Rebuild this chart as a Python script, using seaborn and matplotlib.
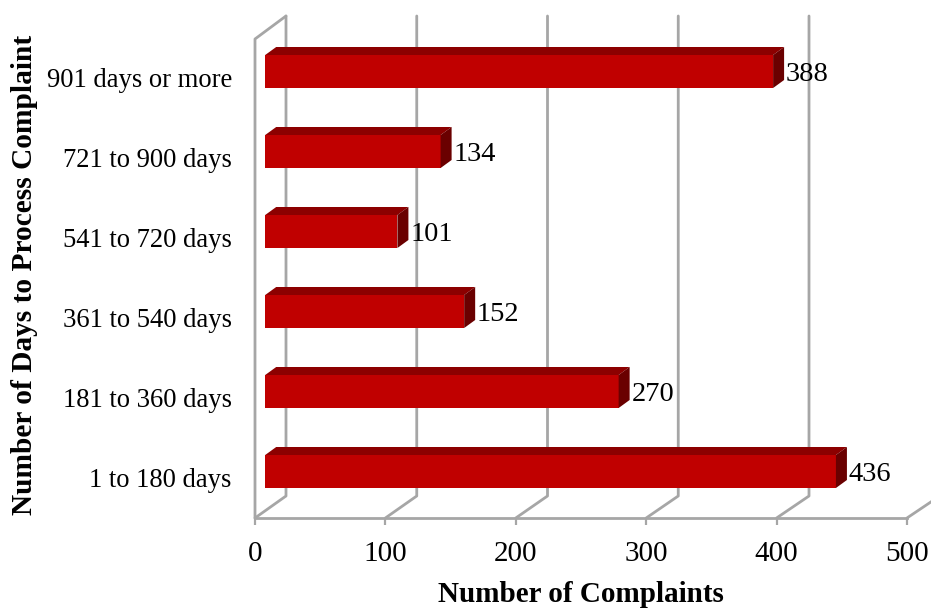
import matplotlib
matplotlib.use("Agg")
import matplotlib.pyplot as plt
import seaborn as sns
from matplotlib.patches import Polygon
from matplotlib.transforms import ScaledTranslation

# values
days = ["901 days or more", "721 to 900 days", "541 to 720 days",
        "361 to 540 days", "181 to 360 days", "1 to 180 days"]
complaints = [388, 134, 101, 152, 270, 436]
xticks = [0, 100, 200, 300, 400, 500]

GRID = "#A6A6A6"
FRONT = "#C00000"
TOP = "#8C0000"
SIDE = "#6A0000"
W, H = 931, 608

sns.set_theme(style="white")
plt.rcParams["font.family"] = ["Liberation Serif", "DejaVu Serif"]
plt.rcParams["text.color"] = "black"

fig = plt.figure(figsize=(W / 100, H / 100), dpi=100)


def px_axes(left, right, top, bottom):
    return fig.add_axes([left / W, 1 - bottom / H, (right - left) / W, (bottom - top) / H])


# floor and walls, in its own axes so the x scale starts at the front corner
wall = px_axes(255, 907, 39, 518)
wall.set_xlim(0, 500)
wall.set_ylim(0, 479)
sns.despine(ax=wall, left=True, top=True, right=True)
wall.spines["bottom"].set_color(GRID)
wall.spines["bottom"].set_linewidth(2)
wall.set_yticks([])
wall.set_xticks(xticks)
wall.tick_params(axis="x", bottom=True, color=GRID, width=1.6, length=5, labelsize=21, pad=11.5, labelcolor="black")
wall.set_xlabel("Number of Complaints", fontsize=21, fontweight="bold", color="black")
wall.xaxis.set_label_coords(0.5, -76.5 / 479, transform=wall.transAxes)
wall.xaxis.label.set_verticalalignment("center")

depth_x = 31 * 500 / 652
back_stretch = 1.3075 / 1.304
for t in xticks:
    bx = t * back_stretch + depth_x
    wall.plot([t, bx, bx], [0, 22, 502], color=GRID, lw=2, clip_on=False,
              solid_joinstyle="round", zorder=1)
wall.plot([0, 0, depth_x], [0, 479, 502], color=GRID, lw=2, clip_on=False, zorder=1)

# bars sit a little in front of the back wall
bar_scale = 1.309
bar_left = 265.2
ax = px_axes(bar_left, bar_left + 500 * bar_scale, 39, 518)
ax.patch.set_visible(False)
sns.barplot(x=complaints, y=days, color=FRONT, saturation=1, width=33 / 80, ax=ax, zorder=3,
            edgecolor="none", linewidth=0)
ax.set_xlim(0, 500)
ax.set_ylim((518 - 71.5) / 80, (39 - 71.5) / 80)
sns.despine(ax=ax, left=True, bottom=True, top=True, right=True)
ax.set_xticks([])
ax.set_xlabel("")

dx = 11 / bar_scale
dy = 8 / 80
for p, v in zip(ax.patches, complaints):
    x0, y0, w, h = p.get_x(), p.get_y(), p.get_width(), p.get_height()
    x1 = x0 + w
    y1 = y0 + h
    ax.add_patch(Polygon([(x0, y0), (x0 + dx, y0 - dy), (x1 + dx, y0 - dy), (x1, y0)],
                         facecolor=TOP, edgecolor="none", zorder=3, clip_on=False))
    ax.add_patch(Polygon([(x1, y0), (x1 + dx, y0 - dy), (x1 + dx, y1 - dy), (x1, y1)],
                         facecolor=SIDE, edgecolor="none", zorder=3, clip_on=False))
    ax.annotate(str(v), (x1 + dx, y0 + h / 2), xytext=(1.2, -2), textcoords="offset points",
                va="center", ha="left", fontsize=20.5, color="black", zorder=5)

ax.tick_params(axis="y", left=False, labelsize=19.2, pad=25 * 0.72, labelcolor="black")
shift = ScaledTranslation(0, -6 / 100, fig.dpi_scale_trans)
for lab in ax.get_yticklabels():
    lab.set_transform(lab.get_transform() + shift)

ax.set_ylabel("Number of Days to Process Complaint", fontsize=21.2, fontweight="bold", color="black")
ax.yaxis.set_label_coords((24.5 - bar_left) / (500 * bar_scale), (518 - 275) / 479, transform=ax.transAxes)
ax.yaxis.label.set_verticalalignment("center")

fig.savefig("out.png", dpi=100)
